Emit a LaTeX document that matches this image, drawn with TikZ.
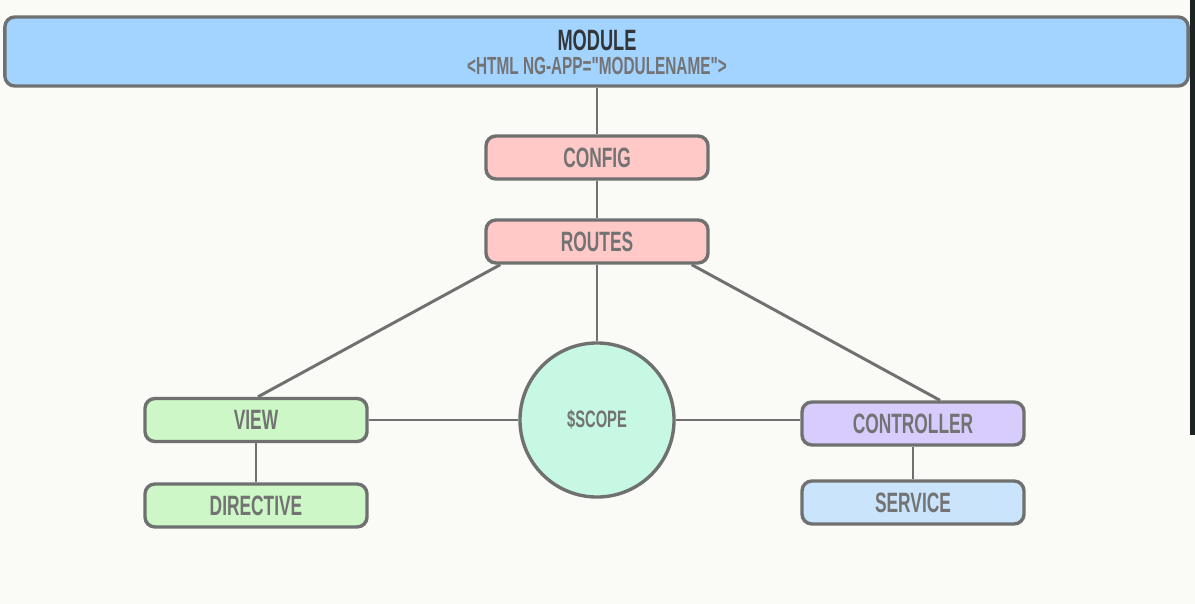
\documentclass[tikz,border=0pt]{standalone}
\usepackage{fontspec}
\setmainfont{Liberation Sans}
\newfontfamily\narrowfont[FakeStretch=0.62]{Liberation Sans Bold}
\usepackage{xcolor}
\definecolor{paper}{HTML}{FAFBF6}
\definecolor{edge}{HTML}{6F7170}
\definecolor{ink}{HTML}{737373}
\definecolor{darkink}{HTML}{333638}
\definecolor{modblue}{HTML}{A3D3FF}
\definecolor{routepink}{HTML}{FFC9C8}
\definecolor{viewgreen}{HTML}{CDF7C6}
\definecolor{scopemint}{HTML}{C6F8E3}
\definecolor{ctrlviolet}{HTML}{D8CCFC}
\definecolor{servblue}{HTML}{C9E4FB}
\definecolor{barblack}{HTML}{1B2423}
\usetikzlibrary{calc}

\tikzset{
  box/.style={draw=edge, line width=2.4pt, rounded corners=0.25cm, minimum width=5.55cm,
    minimum height=1.075cm, inner sep=0pt, text=ink, font=\narrowfont\fontsize{19.9}{20}\selectfont},
  link/.style={draw=edge, line width=2.1pt},
}

\begin{document}
\begin{tikzpicture}[x=0.025cm, y=-0.025cm]
  % Page and the dark strip at the right edge.
  \useasboundingbox[fill=paper] (0,0) rectangle (1195,604);
  \fill[barblack] (1190,0) rectangle (1195,435);
  % Module bar across the top.
  \node[box, fill=modblue, minimum width=29.575cm, minimum height=1.725cm] (module) at (596.5,51.5) {};
  \node[text=darkink, font=\narrowfont\fontsize{20.9}{21}\selectfont, inner sep=0pt] (modtitle) at (597,40) {MODULE};
  \node[text=ink, font=\narrowfont\fontsize{17.6}{18}\selectfont, inner sep=0pt] (modtag) at (597,66) {<HTML NG-APP="MODULENAME">};
  % Chain below it.
  \node[box, fill=routepink] (config) at (597,157.5) {CONFIG};
  \node[box, fill=routepink] (routes) at (597,241.5) {ROUTES};
  \node[draw=edge, line width=2.4pt, circle, fill=scopemint, minimum size=3.85cm, inner sep=0pt,
    text=ink, font=\narrowfont\fontsize{16.9}{17}\selectfont] (scope) at (597,420) {\$SCOPE};
  \node[box, fill=viewgreen] (view) at (256,420) {VIEW};
  \node[box, fill=viewgreen] (directive) at (256,505.5) {DIRECTIVE};
  \node[box, fill=ctrlviolet] (controller) at (913,423.5) {CONTROLLER};
  \node[box, fill=servblue] (service) at (913,502.5) {SERVICE};
  % Connectors.
  \draw[link] (module.south -| config.north) -- (config.north);
  \draw[link] (config.south) -- (routes.north);
  \draw[link] (routes.south) -- (scope.north);
  \draw[link] ([xshift=0.4cm]routes.south west) -- ([xshift=0.05cm]view.north);
  \draw[link] ([xshift=-0.45cm]routes.south east) -- ([xshift=0.675cm]controller.north);
  \draw[link] (view.east) -- (scope.west);
  \draw[link] (scope.east) -- (scope.east -| controller.west);
  \draw[link] (view.south) -- (directive.north);
  \draw[link] (controller.south) -- (service.north);
\end{tikzpicture}
\end{document}
